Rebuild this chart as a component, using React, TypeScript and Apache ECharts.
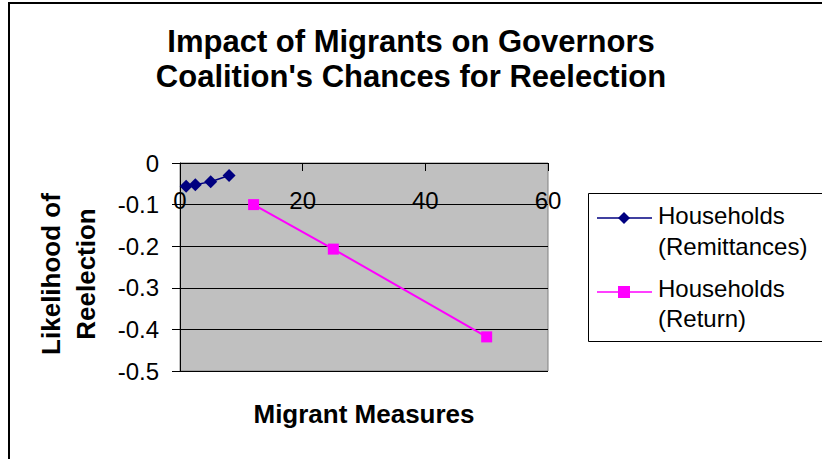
import React, { useEffect, useRef } from "react";
import * as echarts from "echarts";

const titleLines = ["Impact of Migrants on Governors", "Coalition's Chances for Reelection"];
const xAxisTitle = "Migrant Measures";
const yAxisTitle = ["Likelihood of", "Reelection"];

const remitName = "Households (Remittances)";
const remitX = [1, 2.5, 5, 8];
const remitY = [-0.056, -0.052, -0.045, -0.03];

const returnName = "Households (Return)";
const returnX = [12, 25, 50];
const returnY = [-0.1, -0.207, -0.418];

const legendLines = [
  ["Households", "(Remittances)"],
  ["Households", "(Return)"],
];

const FONT = "'Liberation Sans', Arial, sans-serif";

export default function App() {
  const ref = useRef<HTMLDivElement>(null);
  useEffect(() => {
    if (!ref.current) return;
    const chart = echarts.init(ref.current, null, { renderer: "svg" });
    const option: any = {
      animation: false,
      backgroundColor: "#ffffff",
      textStyle: { fontFamily: FONT },
      title: {
        text: titleLines.join("\n"),
        left: "center",
        top: 24,
        padding: [0, 0, 0, 18],
        textStyle: {
          fontFamily: FONT,
          fontSize: 31,
          fontWeight: "bold",
          color: "#000",
          lineHeight: 35,
        },
      },
      grid: {
        left: 180,
        top: 163,
        width: 368,
        height: 208,
        containLabel: false,
        outerBoundsMode: "none",
        show: true,
        backgroundColor: "#C0C0C0",
        borderColor: "#808080",
        borderWidth: 1,
      },
      xAxis: {
        type: "value",
        position: "bottom",
        offset: -208,
        min: 0,
        max: 60,
        interval: 20,
        name: xAxisTitle,
        nameLocation: "middle",
        nameGap: 238,
        nameTextStyle: { fontFamily: FONT, fontSize: 26, fontWeight: "bold", color: "#000" },
        axisLine: { show: true, onZero: false, lineStyle: { color: "#000", width: 1 } },
        axisTick: { show: true, length: 8, lineStyle: { color: "#000" } },
        axisLabel: { fontFamily: FONT, fontSize: 24, color: "#000", margin: 25 },
        splitLine: { show: false },
      },
      yAxis: {
        type: "value",
        min: -0.5,
        max: 0,
        interval: 0.1,
        name: yAxisTitle.join("\n"),
        nameLocation: "middle",
        nameGap: 77,
        nameRotate: 90,
        nameTextStyle: {
          fontFamily: FONT,
          fontSize: 26,
          fontWeight: "bold",
          color: "#000",
          lineHeight: 35,
          padding: [0, 14, 0, 0],
        },
        axisLine: { show: true, lineStyle: { color: "#000", width: 1 } },
        axisTick: { show: true, length: 8, lineStyle: { color: "#000" } },
        axisLabel: {
          fontFamily: FONT,
          fontSize: 24,
          color: "#000",
          margin: 21,
          formatter: (v: number) => String(Math.round(v * 10) / 10),
        },
        splitLine: { show: true, lineStyle: { color: "#000", width: 1 } },
      },
      series: [
        {
          name: remitName,
          type: "line",
          data: remitX.map((x, i) => [x, remitY[i]]),
          symbol: "diamond",
          symbolSize: 13,
          itemStyle: { color: "#000080" },
          lineStyle: { color: "#000080", width: 1.5 },
          z: 3,
        },
        {
          name: returnName,
          type: "line",
          data: returnX.map((x, i) => [x, returnY[i]]),
          symbol: "rect",
          symbolSize: 11,
          itemStyle: { color: "#FF00FF" },
          lineStyle: { color: "#FF00FF", width: 2 },
          z: 3,
        },
      ],
      graphic: [
        {
          type: "rect",
          z: -10,
          shape: { x: 9, y: 3, width: 900, height: 600 },
          style: { fill: "none", stroke: "#000", lineWidth: 2 },
        },
        {
          type: "rect",
          shape: { x: 588.5, y: 193.5, width: 260, height: 148 },
          style: { fill: "#fff", stroke: "#000", lineWidth: 1 },
        },
        {
          type: "line",
          shape: { x1: 597, y1: 218, x2: 652, y2: 218 },
          style: { stroke: "#000080", lineWidth: 1.5 },
        },
        {
          type: "polygon",
          shape: { points: [[624, 212], [630, 218], [624, 224], [618, 218]] },
          style: { fill: "#000080" },
        },
        {
          type: "text",
          x: 658,
          y: 200,
          style: {
            text: legendLines[0].join("\n"),
            fontFamily: FONT,
            fontSize: 24,
            lineHeight: 31,
            fill: "#000",
            verticalAlign: "top",
          },
        },
        {
          type: "line",
          shape: { x1: 597, y1: 292, x2: 652, y2: 292 },
          style: { stroke: "#FF00FF", lineWidth: 1.5 },
        },
        {
          type: "rect",
          shape: { x: 618, y: 286, width: 12, height: 12 },
          style: { fill: "#FF00FF" },
        },
        {
          type: "text",
          x: 658,
          y: 273,
          style: {
            text: legendLines[1].join("\n"),
            fontFamily: FONT,
            fontSize: 24,
            lineHeight: 30,
            fill: "#000",
            verticalAlign: "top",
          },
        },
      ],
    };
    chart.setOption(option);
    return () => chart.dispose();
  }, []);
  return (
    <div
      ref={ref}
      style={{ position: "absolute", left: 0, top: 0, width: 822, height: 459, background: "#fff" }}
    />
  );
}
